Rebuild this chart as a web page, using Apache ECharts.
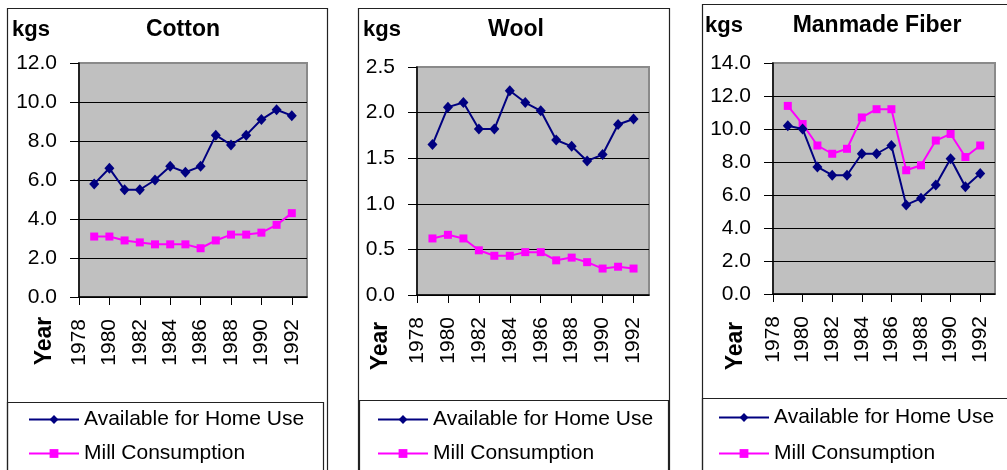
<!DOCTYPE html>
<html>
<head>
<meta charset="utf-8">
<script src="https://cdn.jsdelivr.net/npm/echarts@6/dist/echarts.min.js"></script>
<style>
  html, body { margin: 0; padding: 0; background: #fff; }
  #chart { width: 1007px; height: 470px; }
</style>
</head>
<body>
<div id="chart"></div>
<script>
// Per-capita fibre use, kilograms, 1979-1992
const years = [1979, 1980, 1981, 1982, 1983, 1984, 1985, 1986, 1987, 1988, 1989, 1990, 1991, 1992];
const yearTicks = [1978, 1980, 1982, 1984, 1986, 1988, 1990, 1992];
const panelTitles = ['Cotton', 'Wool', 'Manmade Fiber'];
const seriesNames = ['Available for Home Use', 'Mill Consumption'];
const unitLabel = 'kgs';
const yearLabel = 'Year';

const cottonHome = [5.8, 6.6, 5.5, 5.5, 6.0, 6.7, 6.4, 6.7, 8.3, 7.8, 8.3, 9.1, 9.6, 9.3];
const cottonMill = [3.1, 3.1, 2.9, 2.8, 2.7, 2.7, 2.7, 2.5, 2.9, 3.2, 3.2, 3.3, 3.7, 4.3];
const woolHome = [1.65, 2.06, 2.11, 1.82, 1.82, 2.24, 2.11, 2.02, 1.70, 1.63, 1.47, 1.54, 1.87, 1.93];
const woolMill = [0.62, 0.66, 0.62, 0.49, 0.43, 0.43, 0.47, 0.47, 0.38, 0.41, 0.36, 0.29, 0.31, 0.29];
const fiberHome = [10.2, 10.0, 7.7, 7.2, 7.2, 8.5, 8.5, 9.0, 5.4, 5.8, 6.6, 8.2, 6.5, 7.3];
const fiberMill = [11.4, 10.3, 9.0, 8.5, 8.8, 10.7, 11.2, 11.2, 7.5, 7.8, 9.3, 9.7, 8.3, 9.0];

const yMaxes = [12, 2.5, 14];
const ySteps = [2, 0.5, 2];
const homeData = [cottonHome, woolHome, fiberHome];
const millData = [cottonMill, woolMill, fiberMill];

const FONT = '"Liberation Sans", Arial, sans-serif';
const NAVY = '#000080';
const MAGENTA = '#FF00FF';

// Panel geometry (pixels)
const layout = [
  { frame: [7.5, 8.5, 320, 480], legendBox: [7.5, 402.5, 316, 80],
    grid: { left: 79, top: 63, width: 228, height: 234 },
    unit: [12, 30], title: [183, 30], year: [45, 341], legend: { left: 28, top: 409, gap: 13 } },
  { frame: [358.5, 8.5, 311, 480], legendBox: [359.5, 400.5, 309, 80],
    grid: { left: 417, top: 67, width: 232, height: 228 },
    unit: [363, 30], title: [516, 30], year: [381, 346], legend: { left: 377, top: 409, gap: 13 } },
  { frame: [702.5, 4.5, 330, 480], legendBox: [702.5, 398.5, 330, 80],
    grid: { left: 773, top: 63, width: 222, height: 231 },
    unit: [705, 26], title: [877, 26], year: [736, 346], legend: { left: 718, top: 407, gap: 15 } }
];

const grids = [], xAxes = [], yAxes = [], series = [], legends = [], graphics = [];

layout.forEach((p, i) => {
  grids.push(Object.assign({
    show: true, backgroundColor: '#C0C0C0', borderColor: '#8a8a8a', borderWidth: 2
  }, p.grid));

  xAxes.push({
    type: 'value', gridIndex: i, min: 1978, max: 1993, interval: 2,
    axisLine: { show: true, onZero: false, lineStyle: { color: '#000', width: 1.5 } },
    axisTick: { show: true, length: 8, customValues: yearTicks, lineStyle: { color: '#000' } },
    axisLabel: {
      rotate: 90, margin: 22, color: '#000', fontSize: 21, fontFamily: FONT,
      customValues: yearTicks,
      formatter: v => (v % 2 === 0 && v < 1993 ? String(v) : '')
    },
    splitLine: { show: false }
  });

  yAxes.push({
    type: 'value', gridIndex: i, min: 0, max: yMaxes[i], interval: ySteps[i],
    axisLine: { show: true, lineStyle: { color: '#000', width: 1.5 } },
    axisTick: { show: true, length: 9, lineStyle: { color: '#000' } },
    axisLabel: {
      margin: 22, color: '#000', fontSize: 21, fontFamily: FONT,
      formatter: v => v.toFixed(1)
    },
    splitLine: { show: true, showMaxLine: false, lineStyle: { color: '#000', width: 1 } }
  });

  series.push({
    name: seriesNames[0], type: 'line', xAxisIndex: i, yAxisIndex: i,
    data: years.map((y, k) => [y, homeData[i][k]]),
    symbol: 'diamond', symbolSize: [10, 11],
    itemStyle: { color: NAVY }, lineStyle: { color: NAVY, width: 2 },
    animation: false, z: 3
  });
  series.push({
    name: seriesNames[1], type: 'line', xAxisIndex: i, yAxisIndex: i,
    data: years.map((y, k) => [y, millData[i][k]]),
    symbol: 'rect', symbolSize: 8,
    itemStyle: { color: MAGENTA }, lineStyle: { color: MAGENTA, width: 2 },
    animation: false, z: 2
  });

  legends.push({
    data: seriesNames, orient: 'vertical',
    left: p.legend.left, top: p.legend.top, width: 300, height: 120,
    padding: 0,
    itemWidth: 50, itemHeight: 11, itemGap: p.legend.gap,
    selectedMode: false,
    textStyle: { fontSize: 21, color: '#000', fontFamily: FONT, lineHeight: 20 }
  });

  // outer frame and legend box
  graphics.push({
    type: 'rect', silent: true, z: 0,
    shape: { x: p.frame[0], y: p.frame[1], width: p.frame[2], height: p.frame[3] },
    style: { fill: 'none', stroke: '#222', lineWidth: 1.2 }
  });
  graphics.push({
    type: 'rect', silent: true, z: 0,
    shape: { x: p.legendBox[0], y: p.legendBox[1], width: p.legendBox[2], height: p.legendBox[3] },
    style: { fill: 'none', stroke: '#222', lineWidth: 1.2 }
  });
  graphics.push({
    type: 'text', silent: true, x: p.unit[0], y: p.unit[1],
    style: { text: unitLabel, fontSize: 22, fontWeight: 'bold', fontFamily: FONT,
             fill: '#000', textAlign: 'left', textVerticalAlign: 'middle' }
  });
  graphics.push({
    type: 'text', silent: true, x: p.title[0], y: p.title[1],
    style: { text: panelTitles[i], fontSize: 23, fontWeight: 'bold', fontFamily: FONT,
             fill: '#000', textAlign: 'center', textVerticalAlign: 'middle' }
  });
  graphics.push({
    type: 'text', silent: true, x: p.year[0], y: p.year[1], rotation: Math.PI / 2,
    style: { text: yearLabel, fontSize: 23, fontWeight: 'bold', fontFamily: FONT,
             fill: '#000', textAlign: 'center', textVerticalAlign: 'middle' }
  });
});

const chart = echarts.init(document.getElementById('chart'), null, { renderer: 'canvas' });
chart.setOption({
  backgroundColor: '#fff',
  animation: false,
  grid: grids,
  xAxis: xAxes,
  yAxis: yAxes,
  series: series,
  legend: legends,
  graphic: graphics
});
</script>
</body>
</html>
